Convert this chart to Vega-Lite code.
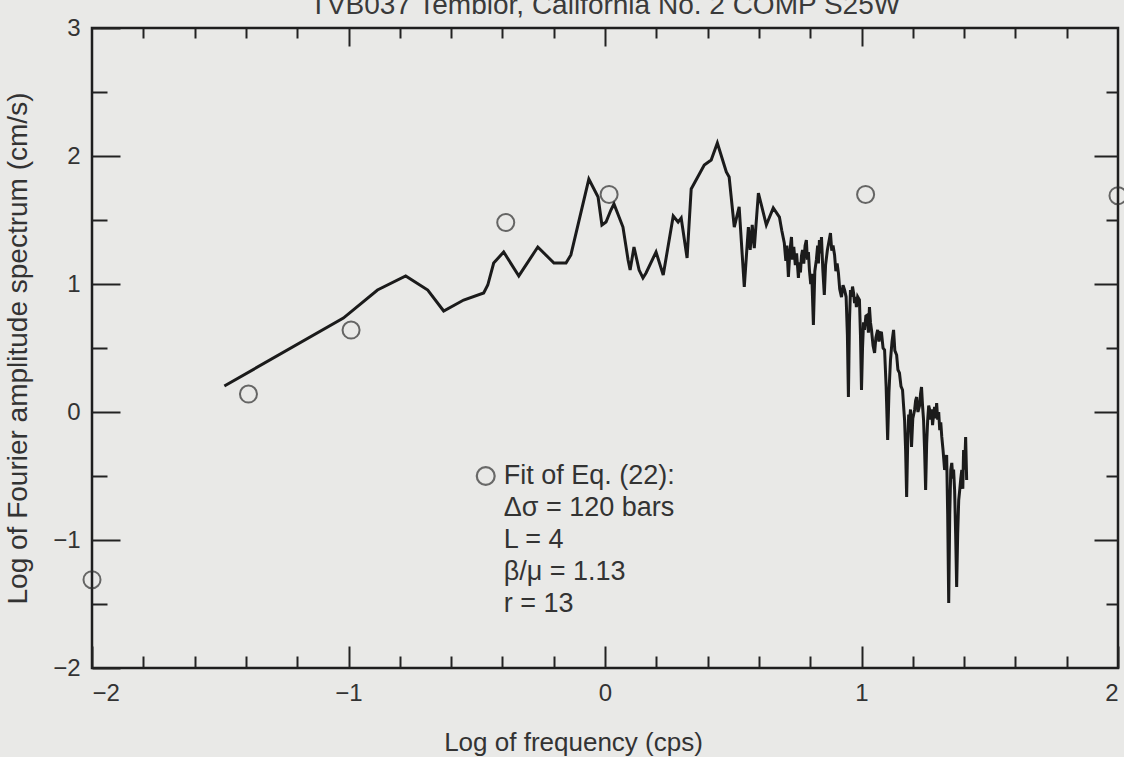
{
  "$schema": "https://vega.github.io/schema/vega-lite/v6.json",
  "autosize": "none",
  "width": 1026,
  "height": 640,
  "padding": {"left": 92, "top": 28, "right": 6, "bottom": 89},
  "background": "#e9e9e7",
  "title": {
    "text": "TVB037 Temblor, California No. 2 COMP S25W",
    "font": "Liberation Sans",
    "fontSize": 28,
    "fontWeight": "normal",
    "color": "#3a3a3a",
    "anchor": "middle",
    "baseline": "alphabetic",
    "offset": -4,
    "dy": 22
  },
  "config": {
    "view": {"stroke": "#1e1e1e", "strokeWidth": 2.5},
    "axis": {
      "domain": false,
      "grid": false,
      "tickColor": "#222222",
      "tickWidth": 2,
      "labelFont": "Liberation Sans",
      "labelFontSize": 24,
      "labelColor": "#333333",
      "titleFont": "Liberation Sans",
      "titleFontWeight": "normal",
      "titleColor": "#333333"
    },
    "text": {"font": "Liberation Sans"}
  },
  "datasets": {
    "spectrum": [
      {"logf": -1.484, "loga": 0.203},
      {"logf": -1.020, "loga": 0.734},
      {"logf": -0.887, "loga": 0.953},
      {"logf": -0.777, "loga": 1.063},
      {"logf": -0.691, "loga": 0.953},
      {"logf": -0.629, "loga": 0.789},
      {"logf": -0.551, "loga": 0.875},
      {"logf": -0.473, "loga": 0.930},
      {"logf": -0.457, "loga": 0.992},
      {"logf": -0.434, "loga": 1.164},
      {"logf": -0.395, "loga": 1.250},
      {"logf": -0.336, "loga": 1.063},
      {"logf": -0.262, "loga": 1.289},
      {"logf": -0.199, "loga": 1.164},
      {"logf": -0.152, "loga": 1.164},
      {"logf": -0.133, "loga": 1.227},
      {"logf": -0.063, "loga": 1.820},
      {"logf": -0.027, "loga": 1.680},
      {"logf": -0.012, "loga": 1.461},
      {"logf": 0.004, "loga": 1.484},
      {"logf": 0.023, "loga": 1.578},
      {"logf": 0.035, "loga": 1.625},
      {"logf": 0.070, "loga": 1.445},
      {"logf": 0.090, "loga": 1.188},
      {"logf": 0.098, "loga": 1.109},
      {"logf": 0.113, "loga": 1.289},
      {"logf": 0.133, "loga": 1.109},
      {"logf": 0.148, "loga": 1.047},
      {"logf": 0.160, "loga": 1.086},
      {"logf": 0.199, "loga": 1.250},
      {"logf": 0.227, "loga": 1.070},
      {"logf": 0.266, "loga": 1.531},
      {"logf": 0.285, "loga": 1.484},
      {"logf": 0.297, "loga": 1.516},
      {"logf": 0.320, "loga": 1.203},
      {"logf": 0.336, "loga": 1.742},
      {"logf": 0.387, "loga": 1.930},
      {"logf": 0.414, "loga": 1.969},
      {"logf": 0.438, "loga": 2.102},
      {"logf": 0.473, "loga": 1.875},
      {"logf": 0.484, "loga": 1.836},
      {"logf": 0.504, "loga": 1.445},
      {"logf": 0.523, "loga": 1.602},
      {"logf": 0.543, "loga": 0.977},
      {"logf": 0.559, "loga": 1.445},
      {"logf": 0.566, "loga": 1.266},
      {"logf": 0.574, "loga": 1.461},
      {"logf": 0.582, "loga": 1.281},
      {"logf": 0.598, "loga": 1.711},
      {"logf": 0.629, "loga": 1.461},
      {"logf": 0.656, "loga": 1.594},
      {"logf": 0.680, "loga": 1.523},
      {"logf": 0.689, "loga": 1.42},
      {"logf": 0.699, "loga": 1.320},
      {"logf": 0.705, "loga": 1.18},
      {"logf": 0.709, "loga": 1.30},
      {"logf": 0.715, "loga": 1.055},
      {"logf": 0.721, "loga": 1.26},
      {"logf": 0.727, "loga": 1.367},
      {"logf": 0.731, "loga": 1.19},
      {"logf": 0.736, "loga": 1.29},
      {"logf": 0.742, "loga": 1.148},
      {"logf": 0.747, "loga": 1.24},
      {"logf": 0.754, "loga": 1.047},
      {"logf": 0.758, "loga": 1.17},
      {"logf": 0.762, "loga": 1.09},
      {"logf": 0.766, "loga": 1.22},
      {"logf": 0.770, "loga": 1.266},
      {"logf": 0.775, "loga": 1.16},
      {"logf": 0.780, "loga": 1.30},
      {"logf": 0.785, "loga": 1.344},
      {"logf": 0.789, "loga": 1.19},
      {"logf": 0.793, "loga": 1.25},
      {"logf": 0.797, "loga": 1.109},
      {"logf": 0.802, "loga": 1.00},
      {"logf": 0.806, "loga": 1.08},
      {"logf": 0.8125, "loga": 0.680},
      {"logf": 0.818, "loga": 1.10},
      {"logf": 0.824, "loga": 1.188},
      {"logf": 0.829, "loga": 1.30},
      {"logf": 0.832, "loga": 1.16},
      {"logf": 0.836, "loga": 1.344},
      {"logf": 0.840, "loga": 1.24},
      {"logf": 0.844, "loga": 1.367},
      {"logf": 0.849, "loga": 1.12},
      {"logf": 0.855, "loga": 0.914},
      {"logf": 0.860, "loga": 1.15},
      {"logf": 0.867, "loga": 1.266},
      {"logf": 0.872, "loga": 1.32},
      {"logf": 0.879, "loga": 1.398},
      {"logf": 0.884, "loga": 1.26},
      {"logf": 0.889, "loga": 1.30},
      {"logf": 0.895, "loga": 1.227},
      {"logf": 0.900, "loga": 1.10},
      {"logf": 0.905, "loga": 1.16},
      {"logf": 0.910, "loga": 1.086},
      {"logf": 0.915, "loga": 0.96},
      {"logf": 0.922, "loga": 0.898},
      {"logf": 0.928, "loga": 0.99},
      {"logf": 0.934, "loga": 0.953},
      {"logf": 0.940, "loga": 0.90},
      {"logf": 0.945, "loga": 0.60},
      {"logf": 0.949, "loga": 0.117},
      {"logf": 0.953, "loga": 0.70},
      {"logf": 0.957, "loga": 0.953},
      {"logf": 0.961, "loga": 0.90},
      {"logf": 0.965, "loga": 0.98},
      {"logf": 0.969, "loga": 0.930},
      {"logf": 0.973, "loga": 0.85},
      {"logf": 0.977, "loga": 0.90},
      {"logf": 0.980, "loga": 0.820},
      {"logf": 0.985, "loga": 0.90},
      {"logf": 0.992, "loga": 0.875},
      {"logf": 0.996, "loga": 0.60},
      {"logf": 1.000, "loga": 0.172},
      {"logf": 1.004, "loga": 0.50},
      {"logf": 1.008, "loga": 0.70},
      {"logf": 1.012, "loga": 0.641},
      {"logf": 1.017, "loga": 0.75},
      {"logf": 1.023, "loga": 0.758},
      {"logf": 1.027, "loga": 0.62},
      {"logf": 1.031, "loga": 0.820},
      {"logf": 1.035, "loga": 0.70},
      {"logf": 1.039, "loga": 0.641},
      {"logf": 1.045, "loga": 0.52},
      {"logf": 1.051, "loga": 0.461},
      {"logf": 1.056, "loga": 0.58},
      {"logf": 1.063, "loga": 0.641},
      {"logf": 1.068, "loga": 0.55},
      {"logf": 1.073, "loga": 0.62},
      {"logf": 1.078, "loga": 0.617},
      {"logf": 1.084, "loga": 0.50},
      {"logf": 1.090, "loga": 0.484},
      {"logf": 1.096, "loga": 0.20},
      {"logf": 1.102, "loga": -0.219},
      {"logf": 1.107, "loga": 0.15},
      {"logf": 1.113, "loga": 0.406},
      {"logf": 1.119, "loga": 0.55},
      {"logf": 1.125, "loga": 0.641},
      {"logf": 1.130, "loga": 0.48},
      {"logf": 1.137, "loga": 0.445},
      {"logf": 1.142, "loga": 0.33},
      {"logf": 1.148, "loga": 0.305},
      {"logf": 1.154, "loga": 0.20},
      {"logf": 1.160, "loga": 0.172},
      {"logf": 1.164, "loga": 0.05},
      {"logf": 1.168, "loga": -0.063},
      {"logf": 1.172, "loga": -0.30},
      {"logf": 1.176, "loga": -0.664},
      {"logf": 1.180, "loga": -0.25},
      {"logf": 1.184, "loga": -0.02},
      {"logf": 1.188, "loga": -0.063},
      {"logf": 1.191, "loga": 0.02},
      {"logf": 1.195, "loga": -0.273},
      {"logf": 1.200, "loga": -0.05},
      {"logf": 1.207, "loga": 0.016},
      {"logf": 1.211, "loga": 0.09},
      {"logf": 1.215, "loga": 0.117},
      {"logf": 1.220, "loga": 0.00},
      {"logf": 1.227, "loga": 0.055},
      {"logf": 1.230, "loga": 0.14},
      {"logf": 1.234, "loga": 0.195},
      {"logf": 1.238, "loga": 0.05},
      {"logf": 1.242, "loga": -0.063},
      {"logf": 1.246, "loga": -0.30},
      {"logf": 1.250, "loga": -0.609},
      {"logf": 1.254, "loga": -0.25},
      {"logf": 1.258, "loga": -0.063},
      {"logf": 1.262, "loga": 0.05},
      {"logf": 1.266, "loga": 0.016},
      {"logf": 1.270, "loga": -0.06},
      {"logf": 1.274, "loga": 0.02},
      {"logf": 1.277, "loga": -0.102},
      {"logf": 1.281, "loga": -0.02},
      {"logf": 1.285, "loga": 0.04},
      {"logf": 1.289, "loga": -0.05},
      {"logf": 1.293, "loga": 0.070},
      {"logf": 1.297, "loga": -0.06},
      {"logf": 1.301, "loga": 0.00},
      {"logf": 1.305, "loga": -0.141},
      {"logf": 1.309, "loga": -0.08},
      {"logf": 1.313, "loga": -0.195},
      {"logf": 1.318, "loga": -0.30},
      {"logf": 1.324, "loga": -0.453},
      {"logf": 1.328, "loga": -0.38},
      {"logf": 1.332, "loga": -0.336},
      {"logf": 1.336, "loga": -0.80},
      {"logf": 1.340, "loga": -1.492},
      {"logf": 1.344, "loga": -0.80},
      {"logf": 1.348, "loga": -0.453},
      {"logf": 1.352, "loga": -0.398},
      {"logf": 1.356, "loga": -0.52},
      {"logf": 1.359, "loga": -0.45},
      {"logf": 1.363, "loga": -0.609},
      {"logf": 1.367, "loga": -0.95},
      {"logf": 1.371, "loga": -1.367},
      {"logf": 1.375, "loga": -0.95},
      {"logf": 1.379, "loga": -0.688},
      {"logf": 1.383, "loga": -0.609},
      {"logf": 1.387, "loga": -0.52},
      {"logf": 1.391, "loga": -0.453},
      {"logf": 1.395, "loga": -0.60},
      {"logf": 1.398, "loga": -0.297},
      {"logf": 1.402, "loga": -0.45},
      {"logf": 1.406, "loga": -0.195},
      {"logf": 1.410, "loga": -0.531}
    ],
    "fit": [
      {"logf": -2.0, "loga": -1.31},
      {"logf": -1.39, "loga": 0.14},
      {"logf": -0.99, "loga": 0.64},
      {"logf": -0.387, "loga": 1.48},
      {"logf": 0.016, "loga": 1.70},
      {"logf": 1.016, "loga": 1.70},
      {"logf": 2.0, "loga": 1.69}
    ],
    "note": [
      {"line": "Fit of Eq. (22):", "logf": -0.395, "loga": -0.5},
      {"line": "Δσ = 120 bars", "logf": -0.395, "loga": -0.75},
      {"line": "L = 4", "logf": -0.395, "loga": -1.0},
      {"line": "β/μ = 1.13", "logf": -0.395, "loga": -1.25},
      {"line": "r = 13", "logf": -0.395, "loga": -1.5}
    ],
    "key": [
      {"logf": -0.465, "loga": -0.5}
    ]
  },
  "resolve": {"axis": {"x": "independent", "y": "independent"}},
  "layer": [
    {
      "data": {"name": "spectrum"},
      "mark": {"type": "line", "color": "#1b1b1b", "strokeWidth": 3, "strokeJoin": "miter", "clip": true},
      "encoding": {
        "x": {
          "field": "logf", "type": "quantitative",
          "scale": {"domain": [-2, 2], "nice": false, "zero": false},
          "axis": {
            "orient": "bottom", "values": [-2, -1, 0, 1, 2], "format": "d",
            "tickSize": -22, "labelPadding": 35,
            "title": "Log of frequency (cps)", "titleFontSize": 26, "titlePadding": 24, "titleX": 481
          }
        },
        "y": {
          "field": "loga", "type": "quantitative",
          "scale": {"domain": [-2, 3], "nice": false, "zero": false},
          "axis": {
            "orient": "left", "values": [-2, -1, 0, 1, 2, 3], "format": "d",
            "tickSize": -28, "labelPadding": 40,
            "title": "Log of Fourier amplitude spectrum (cm/s)", "titleFontSize": 28, "titlePadding": 20
          }
        }
      }
    },
    {
      "data": {"name": "fit"},
      "mark": {"type": "point", "shape": "circle", "filled": false, "stroke": "#2e2e2e", "strokeWidth": 2, "size": 290, "clip": false},
      "encoding": {
        "x": {
          "field": "logf", "type": "quantitative",
          "scale": {"domain": [-2, 2], "nice": false, "zero": false},
          "axis": {
            "orient": "bottom",
            "values": [-1.8, -1.6, -1.4, -1.2, -0.8, -0.6, -0.4, -0.2, 0.2, 0.4, 0.6, 0.8, 1.2, 1.4, 1.6, 1.8],
            "tickSize": -12, "labels": false, "title": null
          }
        },
        "y": {
          "field": "loga", "type": "quantitative",
          "scale": {"domain": [-2, 3], "nice": false, "zero": false},
          "axis": {
            "orient": "left", "values": [-1.5, -0.5, 0.5, 1.5, 2.5],
            "tickSize": -15, "labels": false, "title": null
          }
        }
      }
    },
    {
      "data": {"name": "note"},
      "mark": {"type": "text", "align": "left", "baseline": "middle", "fontSize": 27, "color": "#333333"},
      "encoding": {
        "x": {
          "field": "logf", "type": "quantitative",
          "scale": {"domain": [-2, 2], "nice": false, "zero": false},
          "axis": {"orient": "top", "values": [-1, 0, 1], "tickSize": -18, "labels": false, "title": null}
        },
        "y": {
          "field": "loga", "type": "quantitative",
          "scale": {"domain": [-2, 3], "nice": false, "zero": false},
          "axis": {"orient": "right", "values": [-1, 0, 1, 2], "tickSize": -24, "labels": false, "title": null}
        },
        "text": {"field": "line"}
      }
    },
    {
      "data": {"name": "key"},
      "mark": {"type": "point", "shape": "circle", "filled": false, "stroke": "#333333", "strokeWidth": 2.2, "size": 320},
      "encoding": {
        "x": {
          "field": "logf", "type": "quantitative",
          "scale": {"domain": [-2, 2], "nice": false, "zero": false},
          "axis": {
            "orient": "top",
            "values": [-1.8, -1.6, -1.4, -1.2, -0.8, -0.6, -0.4, -0.2, 0.2, 0.4, 0.6, 0.8, 1.2, 1.4, 1.6, 1.8],
            "tickSize": -10, "labels": false, "title": null
          }
        },
        "y": {
          "field": "loga", "type": "quantitative",
          "scale": {"domain": [-2, 3], "nice": false, "zero": false},
          "axis": {"orient": "right", "values": [-1.5, -0.5, 0.5, 1.5, 2.5], "tickSize": -12, "labels": false, "title": null}
        }
      }
    }
  ]
}
